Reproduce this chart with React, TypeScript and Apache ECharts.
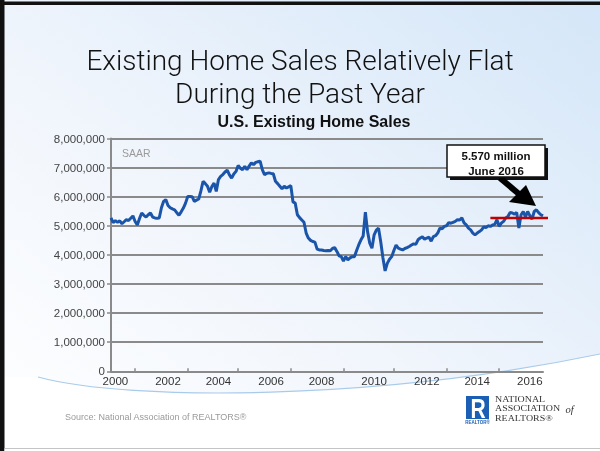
import React, { useEffect, useRef } from 'react';
import * as echarts from 'echarts';

// ---- data (existing home sales, SAAR, millions) ----
const sales2000 = [5.27, 5.11, 5.18, 5.12, 5.17, 5.07, 5.14, 5.21, 5.18, 5.26, 5.34, 5.15];
const sales2001 = [5.03, 5.25, 5.44, 5.36, 5.30, 5.38, 5.44, 5.30, 5.27, 5.26, 5.27, 5.62];
const sales2002 = [5.84, 5.90, 5.70, 5.62, 5.58, 5.55, 5.45, 5.36, 5.48, 5.61, 5.78, 6.01];
const sales2003 = [6.01, 6.00, 5.84, 5.88, 5.92, 6.20, 6.53, 6.45, 6.36, 6.15, 6.35, 6.47];
const sales2004 = [6.18, 6.59, 6.70, 6.76, 6.85, 6.91, 6.75, 6.64, 6.78, 6.87, 7.07, 6.98];
const sales2005 = [6.93, 7.04, 6.93, 7.05, 7.16, 7.10, 7.18, 7.20, 7.22, 6.93, 6.76, 6.80];
const sales2006 = [6.82, 6.80, 6.79, 6.53, 6.45, 6.36, 6.27, 6.36, 6.30, 6.34, 6.38, 5.82];
const sales2007 = [5.78, 5.38, 5.28, 5.20, 5.12, 4.75, 4.58, 4.50, 4.46, 4.44, 4.20, 4.17];
const sales2008 = [4.17, 4.15, 4.14, 4.15, 4.14, 4.22, 4.25, 4.12, 3.97, 3.94, 3.79, 3.94];
const sales2009 = [3.83, 3.90, 3.94, 3.94, 4.15, 4.35, 4.52, 4.65, 5.47, 4.80, 4.40, 4.23];
const sales2010 = [4.69, 4.85, 4.92, 4.45, 3.90, 3.45, 3.71, 3.85, 3.94, 4.15, 4.34, 4.23];
const sales2011 = [4.20, 4.17, 4.22, 4.25, 4.29, 4.34, 4.38, 4.36, 4.52, 4.58, 4.62, 4.54];
const sales2012 = [4.58, 4.61, 4.47, 4.63, 4.66, 4.75, 4.92, 4.90, 4.98, 5.00, 5.11, 5.09];
const sales2013 = [5.12, 5.15, 5.21, 5.20, 5.27, 5.10, 5.03, 4.92, 4.86, 4.75, 4.69, 4.75];
const sales2014 = [4.80, 4.86, 4.96, 4.94, 5.00, 4.98, 5.03, 5.05, 5.21, 4.98, 5.09, 5.15];
const sales2015 = [5.27, 5.32, 5.46, 5.44, 5.40, 5.46, 4.92, 5.38, 5.49, 5.30, 5.49, 5.35];
const sales2016 = [5.23, 5.49, 5.55, 5.45, 5.38, 5.34];

const salesMillions = [
  ...sales2000, ...sales2001, ...sales2002, ...sales2003, ...sales2004, ...sales2005,
  ...sales2006, ...sales2007, ...sales2008, ...sales2009, ...sales2010, ...sales2011,
  ...sales2012, ...sales2013, ...sales2014, ...sales2015, ...sales2016,
];

const months: string[] = [];
for (let y = 2000; y <= 2016; y++) {
  for (let m = 1; m <= 12; m++) {
    if (months.length < salesMillions.length) months.push(`${y}-${String(m).padStart(2, '0')}`);
  }
}

const yearLabels = ['2000', '2002', '2004', '2006', '2008', '2010', '2012', '2014', '2016'];
const yearLabelMonthIdx = [2, 26, 49, 73, 96, 120, 144, 167, 191];
const tickMonthIdx = [11, 35, 58, 82, 106, 129, 153, 177];

const refLineStartMonth = '2014-06';
const refLineValue = 5.27; // millions

const titleLines = ['Existing Home Sales Relatively Flat', 'During the Past Year'];
const chartTitle = 'U.S. Existing Home Sales';
const unitNote = 'SAAR';
const calloutLines = ['5.570 million', 'June 2016'];
const sourceText = 'Source: National Association of REALTORS®';
const narLines = ['NATIONAL', 'ASSOCIATION', 'REALTORS®'];

const fmt = (v: number) => String(Math.round(v)).replace(/\B(?=(\d{3})+(?!\d))/g, ',');

echarts.graphic.registerShape(
  'underCurve',
  echarts.graphic.extendPath('M38,377 C130,402 380,400 600,354 L600,451 L0,451 L0,377 Z', {})
);

export default function App() {
  const ref = useRef<HTMLDivElement>(null);
  useEffect(() => {
    if (!ref.current) return;
    const chart = echarts.init(ref.current, null, { renderer: 'svg' });

    const narText = (id: string, text: string, y: number) => ({
      id, type: 'text', x: 495, y, scaleX: 1.13,
      style: { text, fontSize: 8.8, fontFamily: 'Liberation Serif, serif', fill: '#333', align: 'left', verticalAlign: 'middle' },
    });

    const baseGraphics: any[] = [
      {
        id: 'bg', type: 'rect', z: -20, silent: true,
        shape: { x: 0, y: 0, width: 600, height: 451 },
        style: {
          fill: new echarts.graphic.LinearGradient(1, 0, 0, 1, [
            { offset: 0, color: '#d4e6f8' },
            { offset: 0.55, color: '#f0f5fc' },
            { offset: 1, color: '#ffffff' },
          ]),
        },
      },
      { id: 'under', type: 'underCurve', z: -19, silent: true, x: 0, y: 0, style: { fill: '#ffffff' } },
      {
        id: 'curve', type: 'bezierCurve', z: -18, silent: true,
        shape: { x1: 38, y1: 377, cpx1: 130, cpy1: 402, cpx2: 380, cpy2: 400, x2: 600, y2: 354 },
        style: { stroke: '#a9cbea', lineWidth: 1.2, fill: null },
      },
      { id: 'bl', type: 'rect', z: 50, shape: { x: 0, y: 0, width: 4.5, height: 451 }, style: { fill: '#111' } },
      { id: 'bt', type: 'rect', z: 50, shape: { x: 0, y: 1.5, width: 600, height: 3.5 }, style: { fill: '#111' } },
      { id: 'bb', type: 'rect', z: 50, shape: { x: 4.5, y: 448, width: 596, height: 1 }, style: { fill: '#c4c4c4' } },
      { id: 'bw', type: 'rect', z: 50, shape: { x: 4.5, y: 449, width: 596, height: 2 }, style: { fill: '#ffffff' } },
      {
        id: 't1', type: 'text', x: 300, y: 60,
        style: { text: titleLines[0], fontSize: 28, fontFamily: 'Roboto', fontWeight: 300, fill: '#111', align: 'center', verticalAlign: 'middle' },
      },
      {
        id: 't2', type: 'text', x: 300, y: 93,
        style: { text: titleLines[1], fontSize: 28, fontFamily: 'Roboto', fontWeight: 300, fill: '#111', align: 'center', verticalAlign: 'middle' },
      },
      {
        id: 'st', type: 'text', x: 314, y: 121.5,
        style: { text: chartTitle, fontSize: 16, fontFamily: 'Liberation Sans, Arial', fontWeight: 'bold', fill: '#111', align: 'center', verticalAlign: 'middle' },
      },
      {
        id: 'saar', type: 'text', x: 122, y: 152.5,
        style: { text: unitNote, fontSize: 10.5, fontFamily: 'Liberation Sans, Arial', fill: '#9a9a9a', align: 'left', verticalAlign: 'middle' },
      },
      // callout box
      { id: 'boxsh', type: 'rect', z: 60, shape: { x: 450, y: 148, width: 98, height: 32 }, style: { fill: '#111' } },
      { id: 'box', type: 'rect', z: 61, shape: { x: 447, y: 145, width: 98, height: 32 }, style: { fill: '#fff', stroke: '#111', lineWidth: 1.5 } },
      {
        id: 'c1', type: 'text', z: 62, x: 496, y: 155.5,
        style: { text: calloutLines[0], fontSize: 11.5, fontFamily: 'Liberation Sans, Arial', fontWeight: 'bold', fill: '#111', align: 'center', verticalAlign: 'middle' },
      },
      {
        id: 'c2', type: 'text', z: 62, x: 496, y: 171,
        style: { text: calloutLines[1], fontSize: 11.5, fontFamily: 'Liberation Sans, Arial', fontWeight: 'bold', fill: '#111', align: 'center', verticalAlign: 'middle' },
      },
      { id: 'arS', type: 'line', z: 60, shape: { x1: 500, y1: 178, x2: 519, y2: 194 }, style: { stroke: '#000', lineWidth: 6 } },
      { id: 'arH', type: 'polygon', z: 60, shape: { points: [[536, 206], [509, 202], [526, 185]] }, style: { fill: '#000' } },
      // source
      {
        id: 'src', type: 'text', x: 65, y: 417,
        style: { text: sourceText, fontSize: 9, fontFamily: 'Liberation Sans, Arial', fill: '#9a9a9a', align: 'left', verticalAlign: 'middle' },
      },
      // logo
      { id: 'lg', type: 'rect', shape: { x: 466, y: 396, width: 23, height: 23 }, style: { fill: '#1a5fb4' } },
      {
        id: 'lgR', type: 'text', x: 478, y: 408.5, scaleX: 0.78,
        style: { text: 'R', fontSize: 27, fontFamily: 'Liberation Sans, Arial', fontWeight: 'bold', fill: '#fff', align: 'center', verticalAlign: 'middle' },
      },
      {
        id: 'lgT', type: 'text', x: 477.5, y: 422.8,
        style: { text: 'REALTOR®', fontSize: 4.5, fontFamily: 'Liberation Sans, Arial', fontWeight: 'bold', fill: '#1a5fb4', align: 'center', verticalAlign: 'middle' },
      },
      narText('nar1', narLines[0], 399.3),
      narText('nar2', narLines[1], 408.5),
      narText('nar3', narLines[2], 417.7),
      {
        id: 'narOf', type: 'text', x: 565.5, y: 409,
        style: { text: 'of', fontSize: 10.5, fontStyle: 'italic', fontFamily: 'Liberation Serif, serif', fill: '#333', align: 'left', verticalAlign: 'middle' },
      },
    ];

    const gridColor = '#8a8a8a';
    chart.setOption({
      animation: false,
      backgroundColor: 'transparent',
      grid: { left: 111, right: 57, top: 138.5, bottom: 79.7, containLabel: false },
      xAxis: {
        type: 'category',
        data: months,
        boundaryGap: false,
        axisLine: { show: true, lineStyle: { color: gridColor, width: 2 } },
        axisTick: {
          show: true, inside: true, length: 3,
          interval: (idx: number) => tickMonthIdx.includes(idx),
          lineStyle: { color: gridColor, width: 1.5 },
        },
        axisLabel: {
          interval: (idx: number) => yearLabelMonthIdx.includes(idx),
          formatter: (_v: string, idx: number) => {
            const k = yearLabelMonthIdx.indexOf(idx);
            return k >= 0 ? yearLabels[k] : '';
          },
          color: '#333', fontSize: 11.5, fontFamily: 'Liberation Sans, Arial', margin: 4,
        },
        splitLine: { show: false },
      },
      yAxis: {
        type: 'value',
        min: 0, max: 8000000, interval: 1000000,
        axisLine: { show: true, lineStyle: { color: gridColor, width: 2 } },
        axisTick: { show: true, length: 4, lineStyle: { color: gridColor, width: 1.5 } },
        axisLabel: { color: '#444', fontSize: 11.5, fontFamily: 'Liberation Sans, Arial', margin: 6, formatter: (v: number) => fmt(v) },
        splitLine: { show: true, lineStyle: { color: gridColor, width: 2 } },
      },
      series: [
        {
          type: 'line',
          data: salesMillions.map((v) => v * 1e6),
          symbol: 'none',
          lineStyle: { color: '#1b55aa', width: 3 },
          z: 3,
        },
      ],
      graphic: { elements: baseGraphics },
    });

    const startIdx = months.indexOf(refLineStartMonth);
    const p1 = chart.convertToPixel({ gridIndex: 0 }, [startIdx, refLineValue * 1e6]) as number[];
    const p2 = chart.convertToPixel({ gridIndex: 0 }, [months.length - 1, refLineValue * 1e6]) as number[];
    chart.setOption({
      graphic: {
        elements: [
          ...baseGraphics,
          {
            id: 'ref', type: 'line', z: 40,
            shape: { x1: p1[0], y1: p1[1], x2: p2[0] + 5, y2: p2[1] },
            style: { stroke: '#c00000', lineWidth: 2.5 },
          },
        ],
      },
    });

    return () => chart.dispose();
  }, []);

  return <div ref={ref} style={{ position: 'fixed', left: 0, top: 0, width: 600, height: 451 }} />;
}
